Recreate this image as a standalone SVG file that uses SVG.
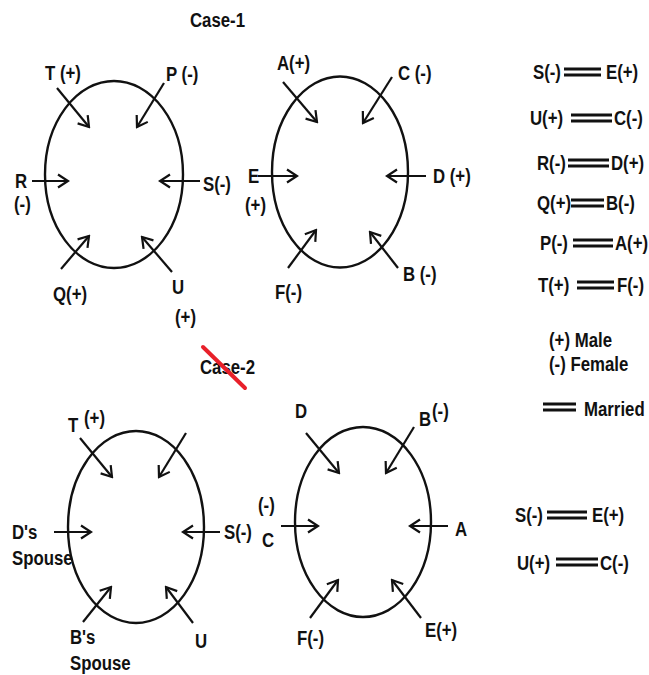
<svg xmlns="http://www.w3.org/2000/svg" width="649" height="675" viewBox="0 0 649 675">
<defs>
<marker id="ah" viewBox="-12 -8 14 16" markerWidth="14" markerHeight="16" refX="0" refY="0" orient="auto" markerUnits="userSpaceOnUse">
<path d="M-10,-6.5 L0,0 L-10,6.5" fill="none" stroke="#111" stroke-width="2.2" stroke-linejoin="miter"/>
</marker>
<style>
.ring{fill:none;stroke:#111;stroke-width:2.4}
.c line{stroke:#111;stroke-width:2.2;marker-end:url(#ah)}
text{font-family:"Liberation Sans",Arial,sans-serif;font-weight:bold;font-size:21px;fill:#111;transform-box:fill-box;transform-origin:0 0;transform:scaleX(0.8)}
.eq line{stroke:#111;stroke-width:2.8}
</style>
</defs>
<rect width="649" height="675" fill="#fff"/>

<text x="190" y="27">Case-1</text>

<g id="circle1">
<ellipse class="ring" cx="114" cy="174.5" rx="69" ry="93.5"/>
<text x="45" y="80">T (+)</text>
<text x="166" y="81">P (-)</text>
<text x="15" y="188">R</text>
<text x="14" y="211">(-)</text>
<text x="203" y="191">S(-)</text>
<text x="53" y="301">Q(+)</text>
<text x="172" y="294">U</text>
<text x="175" y="324">(+)</text>
</g>

<g id="circle2">
<ellipse class="ring" cx="340" cy="172" rx="68" ry="95.5"/>
<text x="277" y="70">A(+)</text>
<text x="398" y="80">C (-)</text>
<text x="248" y="183">E</text>
<text x="245" y="212">(+)</text>
<text x="433" y="183">D (+)</text>
<text x="403" y="281">B (-)</text>
<text x="275" y="299">F(-)</text>
</g>

<g id="legend1">
<text x="533" y="79">S(-)</text><text x="606" y="79">E(+)</text>
<text x="530" y="125">U(+)</text><text x="614" y="125">C(-)</text>
<text x="537" y="170">R(-)</text><text x="611" y="170">D(+)</text>
<text x="537" y="210">Q(+)</text><text x="606" y="210">B(-)</text>
<text x="540" y="250">P(-)</text><text x="615" y="250">A(+)</text>
<text x="538" y="292">T(+)</text><text x="617" y="292">F(-)</text>
<text x="549" y="347">(+) Male</text>
<text x="549" y="371">(-) Female</text>
<text x="584" y="416">Married</text>
</g>

<text x="200" y="374">Case-2</text>
<line x1="203" y1="347" x2="245" y2="388" stroke="#e8202a" stroke-width="4" stroke-linecap="round"/>

<g id="circle3">
<ellipse class="ring" cx="136" cy="527" rx="68" ry="96"/>
<text x="68" y="432">T</text>
<text x="84" y="425">(+)</text>
<text x="12" y="539">D's</text>
<text x="12" y="565">Spouse</text>
<text x="224" y="539">S(-)</text>
<text x="70" y="644">B's</text>
<text x="70" y="670">Spouse</text>
<text x="195" y="648">U</text>
</g>

<g id="circle4">
<ellipse class="ring" cx="363" cy="522" rx="68" ry="95"/>
<text x="295" y="418">D</text>
<text x="419" y="426">B</text>
<text x="432" y="418">(-)</text>
<text x="258" y="512">(-)</text>
<text x="262" y="547">C</text>
<text x="455" y="536">A</text>
<text x="297" y="645">F(-)</text>
<text x="425" y="637">E(+)</text>
</g>

<g id="legend2">
<text x="515" y="522">S(-)</text><text x="592" y="522">E(+)</text>
<text x="517" y="570">U(+)</text><text x="600" y="570">C(-)</text>
</g>

<g id="connectors">
<g class="c">
<line x1="57" y1="88" x2="89" y2="127"/>
<line x1="164" y1="83" x2="137" y2="127"/>
<line x1="32" y1="181" x2="68" y2="181"/>
<line x1="200" y1="181" x2="160" y2="181"/>
<line x1="61" y1="269" x2="89" y2="236"/>
<line x1="172" y1="272" x2="142" y2="237"/>

<line x1="283" y1="82" x2="317" y2="122"/>
<line x1="392" y1="77" x2="363" y2="123"/>
<line x1="258" y1="176" x2="297" y2="176"/>
<line x1="426" y1="176" x2="387" y2="176"/>
<line x1="288" y1="268" x2="316" y2="230"/>
<line x1="398" y1="268" x2="370" y2="232"/>

<line x1="80" y1="438" x2="112" y2="477"/>
<line x1="186" y1="433" x2="159" y2="477"/>
<line x1="54" y1="532" x2="91" y2="532"/>
<line x1="220" y1="532" x2="183" y2="532"/>
<line x1="83" y1="622" x2="111" y2="587"/>
<line x1="193" y1="623" x2="166" y2="587"/>

<line x1="306" y1="433" x2="339" y2="473"/>
<line x1="414" y1="427" x2="386" y2="473"/>
<line x1="281" y1="526" x2="318" y2="526"/>
<line x1="448" y1="526" x2="410" y2="526"/>
<line x1="310" y1="618" x2="338" y2="580"/>
<line x1="421" y1="618" x2="392" y2="580"/>
</g>
<g class="eq">
<line x1="564" y1="69" x2="601" y2="69"/><line x1="564" y1="75" x2="601" y2="75"/>
<line x1="571" y1="115" x2="612" y2="115"/><line x1="571" y1="121" x2="612" y2="121"/>
<line x1="568" y1="160" x2="609" y2="160"/><line x1="568" y1="166" x2="609" y2="166"/>
<line x1="571" y1="200" x2="604" y2="200"/><line x1="571" y1="206" x2="604" y2="206"/>
<line x1="573" y1="240" x2="613" y2="240"/><line x1="573" y1="246" x2="613" y2="246"/>
<line x1="577" y1="282" x2="614" y2="282"/><line x1="577" y1="288" x2="614" y2="288"/>
<line x1="543" y1="404" x2="576" y2="404"/><line x1="543" y1="410" x2="576" y2="410"/>
<line x1="547" y1="512" x2="587" y2="512"/><line x1="547" y1="518" x2="587" y2="518"/>
<line x1="556" y1="559" x2="598" y2="559"/><line x1="556" y1="565" x2="598" y2="565"/>
</g>
</g>
</svg>
